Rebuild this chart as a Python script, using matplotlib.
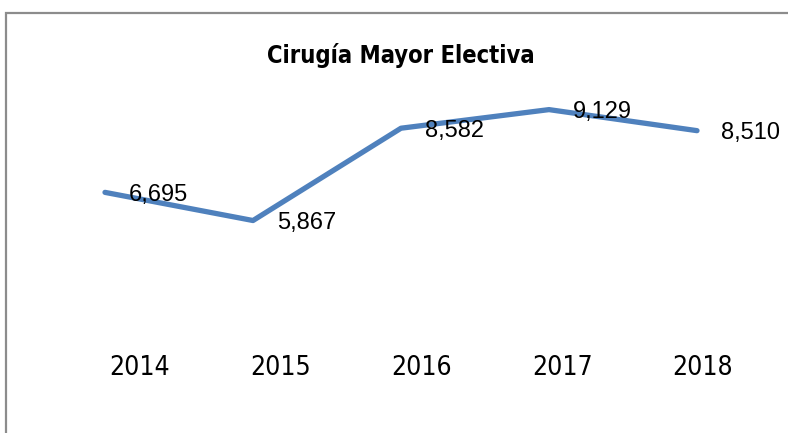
import matplotlib.pyplot as plt
from matplotlib.patches import Rectangle

years = ['2014', '2015', '2016', '2017', '2018']
cirugias = [6695, 5867, 8582, 9129, 8510]

W, H = 788, 433
fig = plt.figure(figsize=(W / 100, H / 100), dpi=100)

# gray chart frame (right and bottom edges fall outside the picture)
fig.patches.append(Rectangle((6 / W, -0.1), 1.2, 1 - 13 / H + 0.1, transform=fig.transFigure,
                             fill=False, edgecolor='#8c8c8c', linewidth=1.6))

ax = fig.add_axes([31 / W, 13 / H, 740 / W, 340 / H])
x = list(range(len(years)))
ax.plot(x, cirugias, color='#4F81BD', linewidth=3.8, solid_capstyle='round', solid_joinstyle='round')
ax.set_xlim(-0.5, 4.5)
ax.set_ylim(0, 10000)

for xi, v in zip(x, cirugias):
    ax.annotate(f'{v:,}', (xi, v), xytext=(17, -2), textcoords='offset points',
                ha='left', va='center', fontsize=17, family=['Liberation Sans', 'DejaVu Sans'])

ax.axis('off')

# category labels sit on their own scale, as in the original
ax2 = ax.twiny()
ax2.set_xlim(-0.7745, 4.483)
ax2.xaxis.set_ticks_position('bottom')
ax2.set_xticks(x)
ax2.set_xticklabels(years, fontsize=19, family='DejaVu Sans', fontstretch='condensed')
ax2.tick_params(axis='x', length=0, pad=-47)
ax2.set_yticks([])
for s in ax2.spines.values():
    s.set_visible(False)
ax2.patch.set_visible(False)

fig.text(401 / W, 1 - 55 / H, 'Cirugía Mayor Electiva', ha='center', va='center',
         fontsize=17, fontweight='bold', family='DejaVu Sans', fontstretch='condensed')

fig.savefig('out.png', dpi=100)
